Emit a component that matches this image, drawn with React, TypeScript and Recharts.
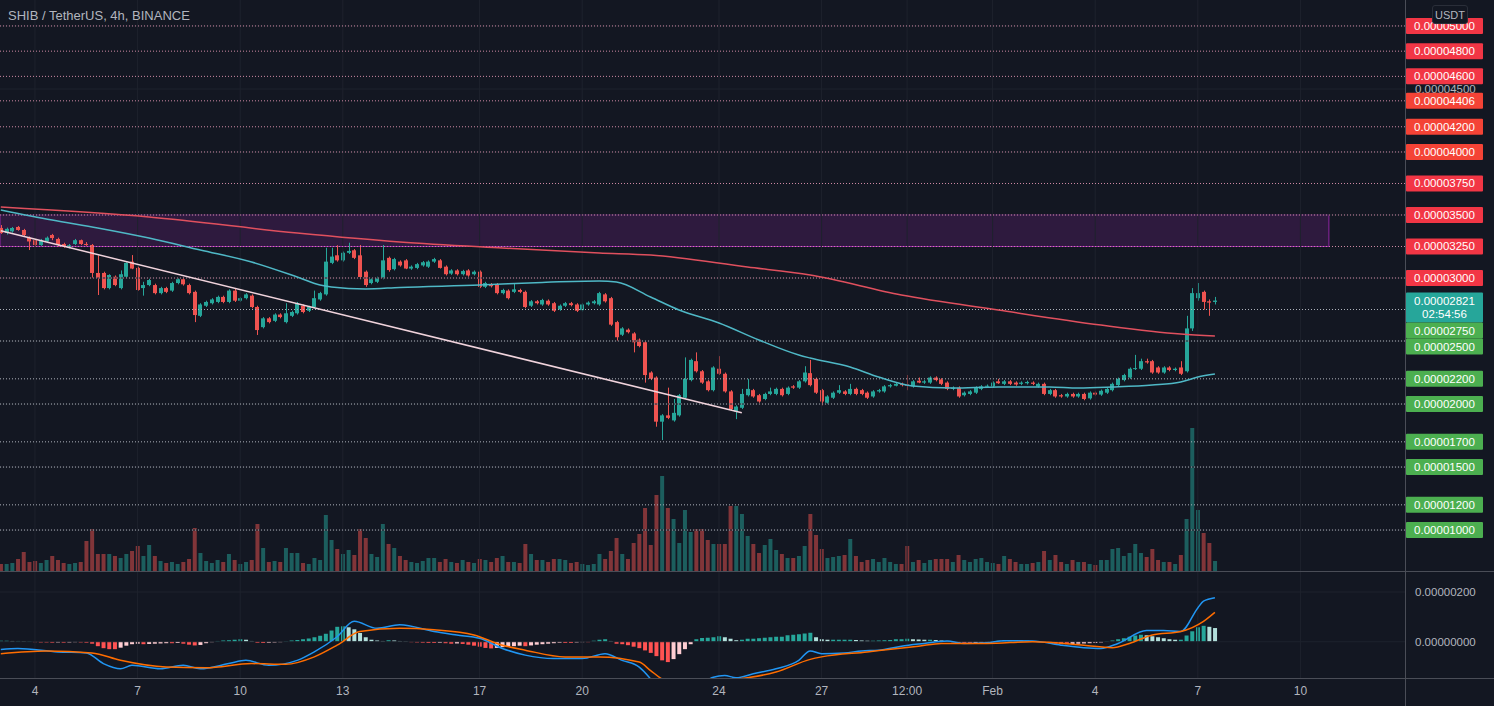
import React from "react";
import {
  ComposedChart,
  Bar,
  Line,
  XAxis,
  YAxis,
  ReferenceLine,
  ReferenceArea,
  Cell,
} from "recharts";

// prices are in units of 1e-8 USDT (3000 = 0.00003000)
// candles, 4h, [open, high, low, close]
const CANDLES: [number, number, number, number][] = [
  [3397, 3420, 3350, 3357], [3357, 3400, 3345, 3390], [3370, 3405, 3360, 3397], [3405, 3413, 3375, 3381],
  [3381, 3390, 3330, 3341], [3320, 3330, 3222, 3290], [3300, 3310, 3250, 3262], [3262, 3310, 3255, 3300],
  [3290, 3330, 3280, 3320], [3341, 3350, 3300, 3317], [3310, 3320, 3250, 3262], [3270, 3280, 3240, 3250],
  [3245, 3270, 3235, 3260], [3270, 3310, 3262, 3300], [3300, 3305, 3262, 3270], [3270, 3285, 3255, 3266],
  [3262, 3270, 3000, 3040], [3040, 3180, 2865, 3000], [3040, 3050, 2910, 2920], [2920, 3030, 2910, 3024],
  [3010, 3020, 2935, 2944], [2920, 3060, 2910, 3030], [3010, 3125, 3000, 3120], [3130, 3182, 3070, 3075],
  [3080, 3090, 2900, 2905], [2920, 2970, 2860, 2944], [2944, 2995, 2935, 2984], [2944, 2955, 2870, 2880],
  [2880, 2930, 2870, 2920], [2920, 2930, 2880, 2890], [2900, 2970, 2890, 2960], [2960, 3000, 2950, 2990],
  [2990, 3005, 2940, 2950], [2944, 2955, 2870, 2880], [2890, 2900, 2650, 2706], [2700, 2800, 2690, 2790],
  [2780, 2820, 2770, 2810], [2800, 2840, 2790, 2830], [2810, 2860, 2800, 2850], [2850, 2860, 2800, 2810],
  [2810, 2910, 2800, 2900], [2900, 2915, 2810, 2820], [2820, 2850, 2810, 2840], [2840, 2880, 2830, 2870],
  [2860, 2870, 2760, 2770], [2770, 2780, 2548, 2587], [2610, 2690, 2600, 2680], [2680, 2690, 2640, 2650],
  [2660, 2720, 2650, 2710], [2710, 2720, 2680, 2690], [2650, 2800, 2640, 2720], [2700, 2740, 2690, 2730],
  [2720, 2810, 2710, 2800], [2780, 2790, 2720, 2730], [2740, 2780, 2730, 2770], [2770, 2900, 2760, 2840],
  [2830, 2890, 2820, 2880], [2870, 3240, 2860, 3130], [3120, 3240, 3110, 3170], [3180, 3260, 3130, 3140],
  [3140, 3210, 3130, 3200], [3200, 3280, 3190, 3215], [3220, 3230, 3150, 3160], [3180, 3262, 2990, 3008],
  [3050, 3060, 2930, 2944], [2960, 3000, 2950, 2990], [2970, 3010, 2960, 3000], [3000, 3262, 2990, 3140],
  [3160, 3170, 3050, 3063], [3070, 3160, 3060, 3150], [3130, 3140, 3090, 3100], [3140, 3150, 3070, 3075],
  [3075, 3100, 3065, 3090], [3080, 3120, 3070, 3110], [3100, 3135, 3090, 3125], [3090, 3140, 3080, 3130],
  [3130, 3160, 3120, 3150], [3140, 3150, 3075, 3080], [3090, 3100, 3020, 3030], [3035, 3070, 3025, 3060],
  [3060, 3070, 3020, 3030], [3030, 3065, 3020, 3055], [3060, 3070, 3010, 3020], [3030, 3060, 3020, 3050],
  [3050, 3060, 2920, 2930], [2930, 2970, 2920, 2960], [2950, 2960, 2925, 2935], [2950, 2960, 2870, 2880],
  [2880, 2915, 2870, 2905], [2900, 2910, 2830, 2840], [2890, 2960, 2880, 2910], [2905, 2915, 2880, 2890],
  [2890, 2900, 2760, 2770], [2780, 2825, 2770, 2815], [2815, 2825, 2790, 2800], [2790, 2835, 2780, 2825],
  [2820, 2830, 2780, 2790], [2800, 2810, 2730, 2740], [2750, 2790, 2740, 2780], [2780, 2810, 2770, 2800],
  [2800, 2810, 2775, 2785], [2790, 2800, 2730, 2740], [2745, 2800, 2735, 2790], [2790, 2815, 2780, 2805],
  [2800, 2825, 2790, 2815], [2790, 2890, 2780, 2880], [2870, 2880, 2805, 2815], [2840, 2850, 2620, 2630],
  [2650, 2660, 2500, 2530], [2550, 2610, 2540, 2600], [2590, 2600, 2560, 2570], [2560, 2570, 2410, 2490],
  [2510, 2520, 2450, 2460], [2490, 2500, 2170, 2230], [2250, 2260, 2190, 2200], [2210, 2220, 1820, 1860],
  [1860, 1920, 1714, 1910], [1910, 2130, 1880, 1890], [1870, 2040, 1860, 1930], [1910, 2080, 1900, 2070],
  [2050, 2370, 2040, 2200], [2190, 2360, 2180, 2350], [2340, 2410, 2250, 2260], [2260, 2270, 2160, 2170],
  [2180, 2190, 2100, 2110], [2110, 2300, 2100, 2290], [2280, 2380, 2230, 2240], [2240, 2250, 2090, 2100],
  [2100, 2110, 1950, 1960], [1940, 1990, 1880, 1980], [1970, 2120, 1960, 2080], [2070, 2200, 2060, 2120],
  [2110, 2120, 2050, 2060], [2070, 2080, 2010, 2020], [2040, 2090, 2030, 2080], [2080, 2130, 2070, 2100],
  [2080, 2130, 2070, 2120], [2120, 2130, 2060, 2070], [2080, 2140, 2070, 2130], [2140, 2150, 2120, 2130],
  [2130, 2190, 2120, 2180], [2180, 2300, 2170, 2250], [2245, 2350, 2140, 2150], [2200, 2210, 2080, 2090],
  [2110, 2120, 1990, 2020], [2010, 2070, 2000, 2060], [2050, 2100, 2040, 2090], [2090, 2150, 2080, 2110],
  [2100, 2110, 2070, 2080], [2080, 2160, 2070, 2120], [2120, 2130, 2070, 2080], [2110, 2120, 2070, 2080],
  [2090, 2100, 2040, 2050], [2060, 2110, 2050, 2100], [2100, 2120, 2090, 2110], [2100, 2150, 2090, 2140],
  [2140, 2160, 2130, 2150], [2145, 2170, 2140, 2160], [2160, 2170, 2140, 2150], [2155, 2230, 2110, 2145],
  [2140, 2190, 2130, 2180], [2185, 2210, 2165, 2170], [2170, 2190, 2160, 2180], [2170, 2220, 2160, 2210],
  [2210, 2220, 2180, 2190], [2195, 2205, 2150, 2160], [2170, 2180, 2110, 2120], [2120, 2140, 2110, 2130],
  [2130, 2140, 2050, 2060], [2070, 2100, 2060, 2090], [2080, 2110, 2070, 2100], [2090, 2140, 2080, 2130],
  [2120, 2150, 2110, 2140], [2140, 2155, 2130, 2145], [2140, 2180, 2130, 2170], [2180, 2200, 2160, 2165],
  [2160, 2190, 2150, 2180], [2180, 2190, 2150, 2160], [2170, 2180, 2145, 2155], [2160, 2180, 2150, 2170],
  [2165, 2185, 2155, 2175], [2170, 2180, 2150, 2160], [2140, 2170, 2130, 2160], [2160, 2170, 2070, 2080],
  [2080, 2120, 2070, 2110], [2110, 2120, 2050, 2060], [2070, 2080, 2050, 2060], [2060, 2090, 2050, 2080],
  [2080, 2090, 2050, 2060], [2060, 2090, 2050, 2080], [2080, 2090, 2030, 2040], [2045, 2100, 2035, 2090],
  [2090, 2100, 2065, 2075], [2075, 2115, 2065, 2105], [2090, 2130, 2080, 2120], [2110, 2170, 2100, 2160],
  [2150, 2210, 2140, 2200], [2190, 2240, 2180, 2230], [2210, 2290, 2200, 2280], [2280, 2390, 2270, 2285],
  [2280, 2360, 2270, 2340], [2340, 2360, 2320, 2330], [2340, 2350, 2240, 2250], [2290, 2300, 2240, 2250],
  [2250, 2300, 2240, 2290], [2290, 2300, 2260, 2270], [2270, 2290, 2260, 2280], [2290, 2340, 2230, 2240],
  [2260, 2700, 2250, 2600], [2600, 2920, 2580, 2880], [2840, 2960, 2820, 2880], [2890, 2900, 2750, 2810],
  [2815, 2830, 2700, 2805], [2810, 2850, 2790, 2821],
];

// volume per candle (billions SHIB)
const VOLUME = [
  7, 7, 8, 12, 19, 9, 10, 8, 11, 15,
  11, 8, 7, 8, 9, 30, 42, 17, 17, 17,
  15, 13, 17, 20, 25, 15, 26, 15, 10, 8,
  9, 7, 9, 12, 43, 18, 10, 8, 11, 9,
  17, 11, 7, 9, 11, 47, 23, 9, 10, 9,
  23, 18, 18, 8, 7, 13, 11, 56, 31, 22,
  17, 21, 16, 42, 33, 17, 14, 47, 27, 23,
  15, 11, 9, 8, 10, 13, 13, 9, 12, 9,
  8, 11, 9, 8, 12, 11, 9, 13, 15, 9,
  9, 8, 27, 17, 11, 11, 9, 12, 12, 11,
  8, 9, 7, 6, 7, 17, 12, 20, 33, 17,
  12, 28, 37, 63, 26, 76, 95, 63, 52, 28,
  61, 39, 42, 42, 31, 27, 27, 27, 65, 65,
  57, 35, 27, 18, 26, 32, 21, 17, 13, 13,
  15, 25, 57, 36, 22, 13, 14, 15, 16, 32,
  15, 9, 11, 12, 9, 13, 9, 7, 7, 25,
  9, 11, 8, 11, 12, 12, 12, 9, 16, 11,
  9, 12, 13, 9, 8, 7, 15, 12, 9, 7,
  7, 8, 9, 20, 11, 16, 9, 7, 11, 9,
  9, 7, 6, 11, 11, 22, 23, 15, 18, 27,
  18, 14, 22, 11, 9, 9, 7, 16, 52, 143,
  61, 38, 28, 10,
];

// moving averages, [candle index, price]
const MA_FAST: [number, number][] = [
  [0, 3540], [9, 3460], [17, 3397], [26, 3317], [35, 3222], [44, 3127], [52, 3008], [56, 2944],
  [58, 2929], [64, 2913], [70, 2925], [84, 2944], [95, 2965], [105, 2976], [108, 2968], [114, 2849],
  [119, 2746], [126, 2643], [133, 2508], [140, 2389], [142, 2365], [149, 2294], [154, 2214], [160, 2143],
  [167, 2127], [175, 2135], [184, 2135], [189, 2127], [195, 2135], [202, 2151], [207, 2175], [210, 2214],
  [213, 2238],
];
const MA_SLOW: [number, number][] = [
  [0, 3563], [26, 3484], [52, 3357], [70, 3286], [88, 3238], [105, 3198], [114, 3182], [131, 3087],
  [142, 3024], [158, 2865], [175, 2746], [193, 2627], [207, 2556], [213, 2540],
];

// MACD (1e-8 units)
const MACD_HIST = [
  4, 4, 3, 3, 2, 2,
  -2, -3, -3, -4, -3, -4, -3, -2, -3, -4,
  -8, -18, -26, -30, -30, -24, -16, -10,
  -8, -10, -9, -8, -7, -6, -6, -5, -8, -12,
  -15, -13, -6, -2,
  3, 5, 6, 8, 10, 8,
  3, -4, -5, -4, -3, -2,
  2, 5, 7, 10, 13, 18, 24, 32, 45,
  60, 62, 58, 50, 35, 18,
  8, 5, 3, 6, 5, 3, 2,
  -2, -3, -4, -5, -5, -4, -6, -8, -7,
  -9, -12, -16, -20, -25, -27, -25, -22, -20, -18,
  -16, -18, -15, -12, -10, -8, -6, -4, -5, -5, -3, -2, -2,
  4, 8, 10, 3,
  -8, -10, -14, -20, -26, -35, -45, -58, -75, -82, -70, -50, -30, -10,
  10, 15, 16, 18, 22, 18, 12, 6, 8, 12,
  12, 14, 16, 18, 20, 20, 26, 28, 30, 33, 36,
  18, 10, 8, 8, 8, 8, 8, 7, 5, 4, 4, 5, 6, 7, 10, 10, 12,
  10, 9, 8, 8, 7, 5, 3,
  -2, -6, -8, -8, -6, -4, -2,
  2, 4, 5, 5, 5, 4, 4, 2,
  -1, -3, -6, -8, -10, -10, -9, -8, -7, -6, -5, -3,
  2, 5, 10, 14, 20, 25, 28, 26, 22, 18, 14, 10, 8, 8,
  25, 42, 58, 64, 60, 55,
];
const MACD_LINE: [number, number][] = [
  [0, -31], [3, -27], [10, -41], [15, -45], [18, -88], [21, -109], [23, -95], [28, -109],
  [32, -95], [35, -109], [40, -88], [43, -75], [47, -95], [52, -75], [55, -41], [59, 20],
  [62, 82], [66, 54], [70, 68], [76, 41], [80, 27], [84, 14], [88, -27], [92, -54],
  [97, -68], [102, -68], [106, -48], [109, -75], [112, -102], [114, -150], [116, -215], [118, -235],
  [120, -215], [122, -185], [125, -143], [127, -136], [129, -145], [132, -129], [136, -109], [140, -75],
  [142, -37], [144, -48], [148, -45], [151, -37], [154, -34], [158, -18], [162, -7], [166, 3],
  [169, -7], [173, -4], [176, 4], [181, 3], [186, -14], [190, -24], [193, -27], [196, -7],
  [201, 45], [204, 45], [207, 41], [210, 136], [211, 163], [213, 177],
];
const SIGNAL_LINE: [number, number][] = [
  [0, -48], [8, -37], [16, -45], [21, -75], [29, -102], [36, -105], [44, -88], [50, -91],
  [55, -61], [59, -14], [63, 41], [70, 54], [76, 48], [83, 27], [88, -14], [92, -34],
  [99, -61], [105, -61], [112, -82], [114, -116], [116, -150], [118, -165], [121, -170], [124, -165],
  [127, -155], [131, -145], [136, -122], [142, -71], [144, -61], [152, -41], [161, -18], [165, -7],
  [173, -7], [181, 0], [190, -14], [195, -24], [198, -7], [202, 27], [207, 41], [211, 82],
  [213, 118],
];

// drawings
const TRENDLINE: [number, number][] = [[0, 3375], [130, 1930]];
const ZONE = { end: 233, low: 3250, high: 3500 };
const LEVELS_RED = [5000, 4800, 4600, 4406, 4200, 4000, 3750, 3500, 3250, 3000];
const LEVELS_GREEN = [2750, 2500, 2200, 2000, 1700, 1500, 1200, 1000];
const LAST_PRICE = 2821;
const COUNTDOWN = "02:54:56";
const AXIS_PRICES = [4500];
const GRID_PRICES = [5000, 4500, 4000, 3500, 3000, 2500, 2000, 1500, 1000];

// x axis: candle index -> label
const X_TICKS: [number, string][] = [
  [6, "4"], [24, "7"], [42, "10"], [60, "13"], [84, "17"], [102, "20"], [126, "24"],
  [144, "27"], [159, "12:00"], [174, "Feb"], [192, "4"], [210, "7"], [228, "10"],
];

const BG = "#131722";
const UP = "#26a69a";
const DOWN = "#ef5350";
const TEXT = "#b2b5be";
const GRID = "#1e222d";
const SEP = "#4a4d57";
const WIDTH = 1494;
const MAIN_H = 571;
const MACD_H = 134;
const AXIS_W = 89;
const X_MIN = -0.14;
const X_MAX = 246.35;
const PRICE_MIN = 675;
const PRICE_MAX = 5206;
const MACD_MIN = -146;
const MACD_MAX = 280.5;

const fmt = (p: number) => (p / 1e8).toFixed(8);

const rows: any[] = CANDLES.map(([open, high, low, close], i) => ({
  i,
  open,
  high,
  low,
  close,
  vol: VOLUME[i],
  hist: MACD_HIST[i],
}));
MA_FAST.forEach(([i, v]) => (rows[i].maFast = v));
MA_SLOW.forEach(([i, v]) => (rows[i].maSlow = v));
MACD_LINE.forEach(([i, v]) => (rows[i].macd = v));
SIGNAL_LINE.forEach(([i, v]) => (rows[i].signal = v));

const histColor = (i: number) => {
  const v = MACD_HIST[i];
  const prev = i > 0 ? MACD_HIST[i - 1] : v;
  if (v >= 0) return v >= prev ? "#26a69a" : "#b2dfdb";
  return v <= prev ? "#ff5252" : "#ffcdd2";
};

// price tags on the right scale, pushed down when they would overlap
type Tag = { price: number; color: string; sub?: string; h: number; slot: number; axis?: boolean };
function layoutTags(): Tag[] {
  const pxPerUnit = MAIN_H / (PRICE_MAX - PRICE_MIN);
  const list = [
    ...LEVELS_RED.map((p, k) => ({ price: p, color: k >= 3 && k <= 5 ? "#f44336" : "#f23645" })),
    { price: LAST_PRICE, color: UP, sub: COUNTDOWN },
    ...LEVELS_GREEN.map((p) => ({ price: p, color: "#4caf50" })),
  ].sort((a, b) => b.price - a.price);
  let prevBottom = -Infinity;
  const tags: Tag[] = list.map((t: any) => {
    const h = t.sub ? 30 : 16;
    let top = (PRICE_MAX - t.price) * pxPerUnit - 8;
    if (top < prevBottom) top = prevBottom;
    prevBottom = top + h;
    return { ...t, h, slot: PRICE_MAX - (top + h / 2) / pxPerUnit };
  });
  const axisTags: Tag[] = AXIS_PRICES.map((p) => ({ price: p, color: TEXT, h: 0, slot: p, axis: true }));
  return [...axisTags, ...tags];
}
const TAGS = layoutTags();

function PriceTag(props: any) {
  const { x, y, payload } = props;
  const tag = TAGS.find((t) => Math.abs(t.slot - payload.value) < 1e-6);
  if (!tag) return null;
  if (tag.axis) {
    return (
      <text x={x + 10} y={y} dy={4} fill={TEXT} fontSize={11.5}>
        {fmt(tag.price)}
      </text>
    );
  }
  const top = y - tag.h / 2;
  return (
    <g>
      <rect x={x + 1} y={top} width={77} height={tag.h} fill={tag.color} rx={1} />
      <text x={x + 39.5} y={top + 8} dy={4} textAnchor="middle" fill="#ffffff" fontSize={11.5}>
        {fmt(tag.price)}
      </text>
      {tag.sub && (
        <text x={x + 39.5} y={top + 21.5} dy={4} textAnchor="middle" fill="#ffffff" fontSize={11.5}>
          {tag.sub}
        </text>
      )}
    </g>
  );
}

function Candle(props: any) {
  const { x, y, width, height, payload } = props;
  if (!payload || height == null || isNaN(y)) return null;
  const { open, close, high, low } = payload;
  const color = close >= open ? UP : DOWN;
  const k = height / (high - low);
  const yo = y + (high - open) * k;
  const yc = y + (high - close) * k;
  const bx = Math.round(x);
  const top = Math.min(yo, yc);
  const bh = Math.max(1, Math.abs(yo - yc));
  return (
    <g>
      <rect x={bx + Math.floor(width / 2)} y={y} width={1} height={height} fill={color} />
      <rect x={bx} y={top} width={width} height={bh} fill={color} />
    </g>
  );
}

const tickLabel = new Map(X_TICKS);

export default function App() {
  return (
    <div
      style={{
        position: "fixed",
        left: 0,
        top: 0,
        width: WIDTH,
        height: 706,
        background: BG,
        fontFamily: "'Liberation Sans', Arial, sans-serif",
        overflow: "hidden",
      }}
    >
      <div style={{ position: "absolute", left: 0, top: 0 }}>
        <ComposedChart width={WIDTH} height={MAIN_H} data={rows} margin={{ top: 0, right: 0, bottom: 0, left: 0 }}>
          <XAxis xAxisId="x" dataKey="i" type="number" domain={[X_MIN, X_MAX]} allowDataOverflow hide />
          <XAxis xAxisId="xv" dataKey="i" type="number" domain={[X_MIN, X_MAX]} allowDataOverflow hide />
          <YAxis yAxisId="vol" domain={[0, MAIN_H]} allowDataOverflow hide />
          <YAxis
            yAxisId="price"
            orientation="right"
            width={AXIS_W}
            domain={[PRICE_MIN, PRICE_MAX]}
            allowDataOverflow
            ticks={TAGS.map((t) => t.slot)}
            interval={0}
            tick={<PriceTag />}
            tickLine={false}
            axisLine={false}
            tickSize={0}
            tickMargin={0}
          />
          {X_TICKS.map(([t]) => (
            <ReferenceLine key={"vx" + t} xAxisId="x" yAxisId="price" x={t} stroke={GRID} />
          ))}
          {GRID_PRICES.map((p) => (
            <ReferenceLine key={"gy" + p} xAxisId="x" yAxisId="price" y={p} stroke={GRID} />
          ))}
          <ReferenceArea
            xAxisId="x"
            yAxisId="price"
            x2={ZONE.end}
            y1={ZONE.low}
            y2={ZONE.high}
            fill="#9c27b0"
            fillOpacity={0.2}
            stroke="#9c27b0"
            strokeOpacity={0.9}
          />
          {LEVELS_RED.map((p) => (
            <ReferenceLine key={"lr" + p} xAxisId="x" yAxisId="price" y={p} stroke="#cf8aa5" strokeDasharray="1 2" />
          ))}
          {LEVELS_GREEN.map((p) => (
            <ReferenceLine key={"lg" + p} xAxisId="x" yAxisId="price" y={p} stroke="#aeb2bb" strokeDasharray="1 2" />
          ))}
          <Bar xAxisId="xv" yAxisId="vol" dataKey="vol" barSize={4} isAnimationActive={false}>
            {rows.map((r) => (
              <Cell key={r.i} fill={r.close >= r.open ? UP : DOWN} fillOpacity={0.5} />
            ))}
          </Bar>
          <Line
            xAxisId="x"
            yAxisId="price"
            dataKey="maFast"
            type="monotone"
            stroke="#4fb8c6"
            strokeWidth={1.5}
            dot={false}
            activeDot={false}
            connectNulls
            isAnimationActive={false}
          />
          <Line
            xAxisId="x"
            yAxisId="price"
            dataKey="maSlow"
            type="monotone"
            stroke="#e0505e"
            strokeWidth={1.5}
            dot={false}
            activeDot={false}
            connectNulls
            isAnimationActive={false}
          />
          <ReferenceLine
            xAxisId="x"
            yAxisId="price"
            segment={[
              { x: TRENDLINE[0][0], y: TRENDLINE[0][1] },
              { x: TRENDLINE[1][0], y: TRENDLINE[1][1] },
            ]}
            stroke="#f0d3dc"
            strokeWidth={1.5}
          />
          <Bar
            xAxisId="x"
            yAxisId="price"
            dataKey={(d: any) => [d.low, d.high]}
            barSize={4}
            shape={<Candle />}
            activeBar={false}
            isAnimationActive={false}
          />
        </ComposedChart>
      </div>

      <div style={{ position: "absolute", left: 0, top: 572 }}>
        <ComposedChart width={WIDTH} height={MACD_H} data={rows} margin={{ top: 0, right: 0, bottom: 0, left: 0 }}>
          <XAxis
            xAxisId="x"
            dataKey="i"
            type="number"
            domain={[X_MIN, X_MAX]}
            allowDataOverflow
            ticks={X_TICKS.map(([t]) => t)}
            interval={0}
            tickFormatter={(v: number) => tickLabel.get(v) ?? ""}
            tick={{ fill: TEXT, fontSize: 12 }}
            tickLine={false}
            axisLine={false}
            height={28}
          />
          <YAxis
            yAxisId="m"
            orientation="right"
            width={AXIS_W}
            domain={[MACD_MIN, MACD_MAX]}
            allowDataOverflow
            ticks={[200, 0]}
            interval={0}
            tickFormatter={(v: number) => fmt(v)}
            tick={{ fill: TEXT, fontSize: 11.5 }}
            tickLine={false}
            axisLine={false}
            tickSize={0}
            tickMargin={10}
          />
          {X_TICKS.map(([t]) => (
            <ReferenceLine key={"mx" + t} xAxisId="x" yAxisId="m" x={t} stroke={GRID} />
          ))}
          <ReferenceLine xAxisId="x" yAxisId="m" y={200} stroke={GRID} />
          <ReferenceLine xAxisId="x" yAxisId="m" y={0} stroke={GRID} />
          <Bar xAxisId="x" yAxisId="m" dataKey="hist" barSize={4} activeBar={false} isAnimationActive={false}>
            {rows.map((r) => (
              <Cell key={r.i} fill={histColor(r.i)} />
            ))}
          </Bar>
          <Line
            xAxisId="x"
            yAxisId="m"
            dataKey="macd"
            type="monotone"
            stroke="#2196f3"
            strokeWidth={1.5}
            dot={false}
            activeDot={false}
            connectNulls
            isAnimationActive={false}
          />
          <Line
            xAxisId="x"
            yAxisId="m"
            dataKey="signal"
            type="monotone"
            stroke="#ff6d00"
            strokeWidth={1.5}
            dot={false}
            activeDot={false}
            connectNulls
            isAnimationActive={false}
          />
        </ComposedChart>
      </div>

      {/* pane separators */}
      <div style={{ position: "absolute", left: 0, top: 571, width: WIDTH, height: 1, background: SEP }} />
      <div style={{ position: "absolute", left: 0, top: 678, width: WIDTH, height: 1, background: SEP }} />
      <div style={{ position: "absolute", left: WIDTH - AXIS_W, top: 0, width: 1, height: 706, background: SEP }} />

      <div style={{ position: "absolute", left: 8, top: 8, fontSize: 13, color: TEXT, whiteSpace: "nowrap" }}>
        SHIB / TetherUS, 4h, BINANCE
      </div>
      <div
        style={{
          position: "absolute",
          left: 1432,
          top: 5,
          width: 36,
          height: 19,
          lineHeight: "19px",
          textAlign: "center",
          fontSize: 11,
          color: TEXT,
          background: BG,
          border: "1px solid #2a2e39",
          borderRadius: 3,
          boxSizing: "border-box",
        }}
      >
        USDT
      </div>
    </div>
  );
}
